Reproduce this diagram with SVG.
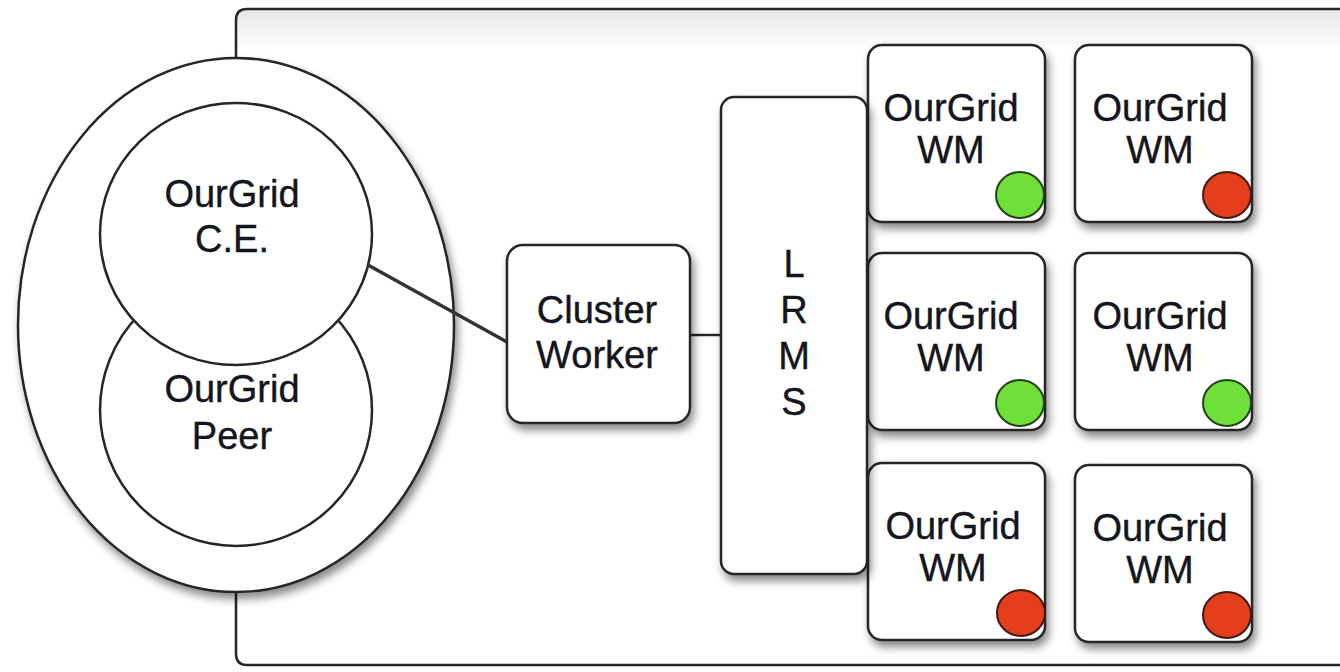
<svg xmlns="http://www.w3.org/2000/svg" width="1340" height="672" viewBox="0 0 1340 672">
<style>
.ln{fill:none;stroke:#262626;stroke-width:2.5}
.nd{fill:#fff;stroke:#262626;stroke-width:2.5}
.tx{font-family:"Liberation Sans",Arial,Helvetica,sans-serif;font-size:38px;fill:#15151c;text-anchor:middle;stroke:#15151c;stroke-width:0.4}
.g{fill:#6fe03a;stroke:#24401a;stroke-width:2}
.r{fill:#e43e1c;stroke:#401a10;stroke-width:2}
</style>
<defs>
<filter id="sh" x="-20%" y="-20%" width="150%" height="150%">
<feDropShadow dx="3" dy="6" stdDeviation="4" flood-color="#000" flood-opacity="0.45"/>
</filter>
<linearGradient id="tg" x1="0" y1="0" x2="0" y2="1">
<stop offset="0" stop-color="#e6e6e6"/>
<stop offset="1" stop-color="#ffffff"/>
</linearGradient>
</defs>
<rect width="1340" height="672" fill="#fff"/>
<g id="container">
<rect x="237" y="10" width="1110" height="40" fill="url(#tg)"/>
<path class="ln" d="M1345 9 H247 Q236 9 236 20 V654 Q236 665 247 665 H1345"/>
</g>
<g id="host">
<ellipse class="nd" cx="236" cy="325" rx="218" ry="267" filter="url(#sh)"/>
</g>
<g id="peer">
<ellipse class="nd" cx="236" cy="410" rx="136" ry="136"/>
<text class="tx" x="232" y="402">OurGrid</text>
<text class="tx" x="232" y="449">Peer</text>
</g>
<g id="ce">
<ellipse class="nd" cx="236" cy="234" rx="136" ry="131"/>
<text class="tx" x="232" y="207">OurGrid</text>
<text class="tx" x="232" y="252">C.E.</text>
</g>
<g id="connectors">
<line x1="368" y1="265" x2="507" y2="342" stroke="#333" stroke-width="3.5"/>
<line x1="690" y1="335" x2="722" y2="335" stroke="#262626" stroke-width="2.5"/>
</g>
<g id="cluster-worker">
<rect class="nd" x="507" y="245" width="183" height="178" rx="16" filter="url(#sh)"/>
<text class="tx" x="597" y="323">Cluster</text>
<text class="tx" x="597" y="368">Worker</text>
</g>
<g id="wm1">
<rect class="nd" x="868" y="45" width="177" height="177" rx="14" filter="url(#sh)"/>
<text class="tx" x="951" y="121">OurGrid</text>
<text class="tx" x="951" y="163">WM</text>
<ellipse class="g" cx="1020" cy="195" rx="24" ry="23"/>
</g>
<g id="wm2">
<rect class="nd" x="1075" y="45" width="177" height="177" rx="14" filter="url(#sh)"/>
<text class="tx" x="1160" y="121">OurGrid</text>
<text class="tx" x="1160" y="163">WM</text>
<ellipse class="r" cx="1227" cy="195" rx="24" ry="23"/>
</g>
<g id="wm3">
<rect class="nd" x="868" y="253" width="177" height="177" rx="14" filter="url(#sh)"/>
<text class="tx" x="951" y="329">OurGrid</text>
<text class="tx" x="951" y="371">WM</text>
<ellipse class="g" cx="1020" cy="403" rx="24" ry="23"/>
</g>
<g id="wm4">
<rect class="nd" x="1075" y="253" width="177" height="177" rx="14" filter="url(#sh)"/>
<text class="tx" x="1160" y="329">OurGrid</text>
<text class="tx" x="1160" y="371">WM</text>
<ellipse class="g" cx="1227" cy="403" rx="24" ry="23"/>
</g>
<g id="wm5">
<rect class="nd" x="868" y="463" width="177" height="177" rx="14" filter="url(#sh)"/>
<text class="tx" x="953" y="539">OurGrid</text>
<text class="tx" x="953" y="581">WM</text>
<ellipse class="r" cx="1021" cy="613" rx="24" ry="23"/>
</g>
<g id="wm6">
<rect class="nd" x="1075" y="465" width="177" height="177" rx="14" filter="url(#sh)"/>
<text class="tx" x="1160" y="541">OurGrid</text>
<text class="tx" x="1160" y="583">WM</text>
<ellipse class="r" cx="1227" cy="615" rx="24" ry="23"/>
</g>
<g id="lrms">
<rect class="nd" x="721" y="97" width="146" height="477" rx="13" filter="url(#sh)"/>
<text class="tx" x="794" y="277">L</text>
<text class="tx" x="794" y="323">R</text>
<text class="tx" x="794" y="369">M</text>
<text class="tx" x="794" y="415">S</text>
</g>
</svg>
